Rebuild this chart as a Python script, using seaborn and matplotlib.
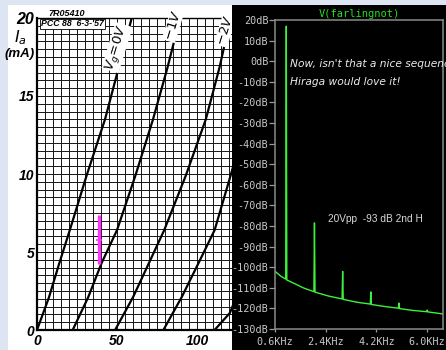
import matplotlib
matplotlib.use('Agg')
import matplotlib.pyplot as plt
import seaborn as sns
import pandas as pd
from matplotlib.patches import Rectangle

# Left: PCC88 anode curves (Va in V, Ia in mA), one list pair per grid voltage
grid_labels = ['0V', '-1V', '-2V', '-3V', '-4V']
va_0 = [0.0, 7.5, 14.0, 20.5, 31.0, 42.5, 51.0, 59.2]
ia_0 = [0.0, 2.1, 4.3, 6.4, 9.9, 13.5, 16.8, 20.0]
va_1 = [22.3, 32.0, 40.4, 50.0, 61.5, 72.5, 81.5, 89.4]
ia_1 = [0.0, 2.1, 4.3, 6.4, 9.9, 13.5, 16.8, 20.0]
va_2 = [48.8, 60.0, 70.0, 79.5, 93.0, 105.5, 114.0, 121.0]
ia_2 = [0.0, 2.1, 4.3, 6.4, 9.9, 13.5, 16.8, 20.0]
va_3 = [79.0, 90.4, 101.0, 111.0, 121.0, 124.0]
ia_3 = [0.0, 2.1, 4.3, 6.4, 9.9, 11.0]
va_4 = [111.0, 120.6, 126.0]
ia_4 = [0.0, 1.1, 2.5]
curves = [(va_0, ia_0), (va_1, ia_1), (va_2, ia_2), (va_3, ia_3), (va_4, ia_4)]

# pink swing marker
pink_va = [38.75, 38.75]
pink_ia = [4.2, 7.4]
pink_mid = 5.8

# Right: FFT of V(farlingnot), frequency in kHz, level in dB
spec_freq = [0.60, 0.80, 0.98, 1.00, 1.02, 1.30, 1.60, 1.98, 2.00, 2.02,
             2.50, 2.98, 3.00, 3.02, 3.50, 3.98, 4.00, 4.02, 4.50, 4.98,
             5.00, 5.02, 5.50, 5.98, 6.00, 6.02, 6.30, 6.56]
spec_db = [-102.0, -104.3, -105.8, 17.0, -106.2, -108.0, -110.0, -111.9, -78.5, -112.1,
           -114.0, -115.4, -102.0, -115.6, -117.0, -117.9, -112.0, -118.1, -119.1, -119.9,
           -117.4, -120.1, -121.0, -121.6, -120.8, -121.7, -122.2, -122.7]
db_ticks = list(range(20, -131, -10))
freq_ticks = [0.6, 2.4, 4.2, 6.0]
freq_labels = ['0.6KHz', '2.4KHz', '4.2KHz', '6.0KHz']

W, H = 446, 350


def box(x0, y0, x1, y1):
    # pixel box (top-left origin) -> figure fraction rect
    return [x0 / W, 1 - y1 / H, (x1 - x0) / W, (y1 - y0) / H]


fig = plt.figure(figsize=(W / 100, H / 100), dpi=100, facecolor='#dde4f2')
fig.patches.append(Rectangle((8 / W, 0), 224 / W, 1 - 5 / H, transform=fig.transFigure,
                             facecolor='white', edgecolor='none', zorder=-5))

# ---------- datasheet panel ----------
ax = fig.add_axes(box(37, 18, 232, 330))
ax.set_zorder(1)
ax.set_facecolor('white')
ax.set_xlim(0, 195 / 1.6)
ax.set_ylim(0, 20)
ax.set_xticks(range(0, 125, 5), minor=True)
ax.set_yticks([i * 0.5 for i in range(41)], minor=True)
num_font = dict(family='Liberation Sans', style='italic', weight='bold', size=10)
ax.set_xticks([0, 50, 100], ['0', '50', '100'], **num_font)
ax.set_yticks([0, 5, 10, 15, 20], ['0', '5', '10', '15', '20'], **num_font)
ax.get_yticklabels()[-1].set_fontsize(11.5)
ax.tick_params(which='both', length=0)
ax.tick_params(axis='x', pad=3)
ax.tick_params(axis='y', pad=2)
ax.grid(which='both', color='#151515', lw=0.7)
ax.set_axisbelow(True)
for s in ['left', 'bottom']:
    ax.spines[s].set_linewidth(1.6)
ax.spines['top'].set_linewidth(1.0)
ax.spines['right'].set_visible(False)

for va, ia in curves:
    sns.lineplot(x=va, y=ia, ax=ax, color='black', lw=1.6, sort=False, estimator=None)

ax.plot(pink_va, pink_ia, color='#ff33ff', lw=2.4, solid_capstyle='butt', zorder=5)
ax.plot([pink_va[0]], [pink_mid], marker='_', ms=5, mew=1.2, color='#ff33ff', zorder=5)

lbl = dict(rotation=73, ha='center', va='center', fontsize=9.5,
           bbox=dict(facecolor='white', edgecolor='none', pad=0.3), zorder=6)
ax.text(50, 18.1, r'$V_g\!=\!0V$', **lbl)
ax.text(85, 19.5, r'$-1V$', **lbl)
ax.text(117.5, 19.2, r'$-2V$', **lbl)

fig.text(41 / W, 1 - 24 / H, "PCC 88  6-3-'57", family='Liberation Sans', style='italic',
         weight='bold', fontsize=6.3, va='center', ha='left', zorder=2,
         bbox=dict(facecolor='white', edgecolor='black', lw=0.6, pad=0.6))
fig.text(67 / W, 1 - 13 / H, '7R05410', family='Liberation Sans', style='italic',
         weight='bold', fontsize=6.5, va='center', ha='center')
fig.text(20 / W, 1 - 38 / H, r'$I_a$', fontsize=11.5, ha='center', va='center')
fig.text(20 / W, 1 - 54 / H, '(mA)', family='Liberation Sans', style='italic',
         weight='bold', fontsize=9.5, ha='center', va='center')

# ---------- LTspice panel ----------
fig.patches.append(Rectangle((232 / W, 0), 214 / W, 1 - 5 / H, transform=fig.transFigure,
                             facecolor='black', edgecolor='none', zorder=3))
sp = fig.add_axes(box(275, 20, 443, 329))
sp.set_zorder(4)
sp.set_facecolor('black')
sns.lineplot(x=spec_freq, y=spec_db, ax=sp, color='#3ef03e', lw=1.0, sort=False, estimator=None)
sp.set_xlim(0.6, 6.56)
sp.set_ylim(-130, 20)
mono = dict(family='DejaVu Sans Mono', size=7.3, color='#c8c8c8')
sp.set_yticks(db_ticks, [f'{v}dB' for v in db_ticks], **mono)
sp.set_xticks(freq_ticks, freq_labels, **mono)
sp.tick_params(axis='y', length=4.3, width=0.9, color='#9a9a9a', pad=0.5)
sp.tick_params(axis='x', length=2.5, width=0.9, color='#9a9a9a', pad=3.5)
for s in sp.spines.values():
    s.set_color('#8a8a8a')
    s.set_linewidth(1.1)
sp.set_title('V(farlingnot)', color='#22dd22', family='DejaVu Sans Mono', fontsize=7.5, pad=2.5)

fig.text(290 / W, 1 - 67 / H, "Now, isn't that a nice sequence!", color='#ececec',
         family='DejaVu Sans', style='italic', fontsize=7.7, va='baseline', zorder=10)
fig.text(290 / W, 1 - 85 / H, 'Hiraga would love it!', color='#ececec',
         family='DejaVu Sans', style='italic', fontsize=7.7, va='baseline', zorder=10)
fig.text(328 / W, 1 - 219 / H, '20Vpp  -93 dB 2nd H', color='#d8d8d8',
         family='Liberation Sans', fontsize=7.3, va='center', zorder=10)

fig.savefig('out.png', dpi=100, facecolor=fig.get_facecolor())
